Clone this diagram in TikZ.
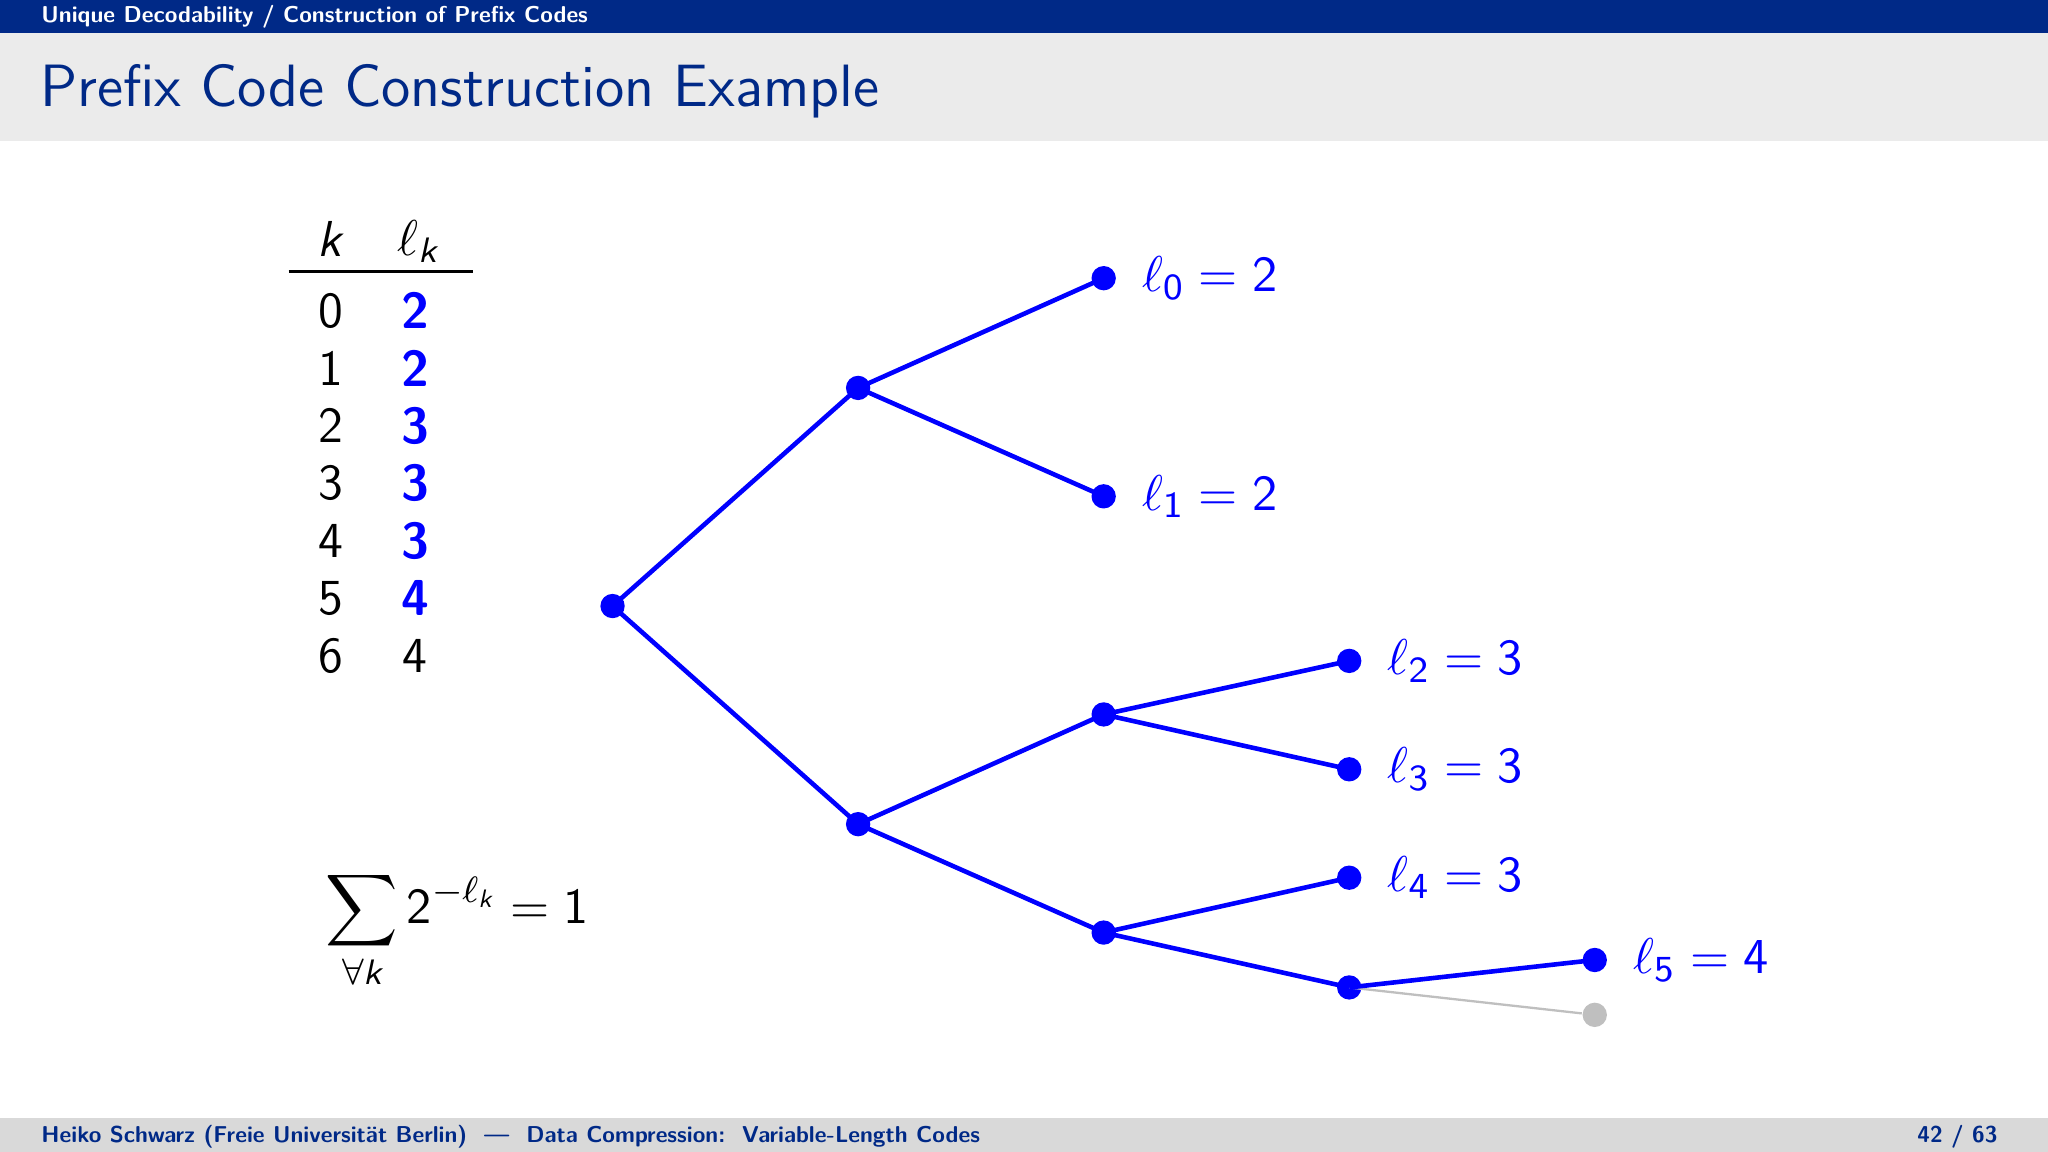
\documentclass[tikz,border=0pt]{standalone}
\renewcommand{\familydefault}{\sfdefault}
\usepackage{amsmath}
\newcommand{\kk}{\textsf{\itshape k}}
\begin{document}
\begin{tikzpicture}[x=0.01cm,y=-0.01cm,
  dot/.style={circle,fill=blue,inner sep=0pt,minimum size=5.3pt},
  gdot/.style={circle,fill=black!25,inner sep=0pt,minimum size=5.3pt},
  edge/.style={blue,line width=1.0pt},
  lab/.style={blue,anchor=west,font=\fontsize{11}{13}\selectfont},
  tab/.style={font=\fontsize{11}{13}\selectfont}]
\definecolor{hdblue}{RGB}{0,41,135}
\useasboundingbox (0,0) rectangle (1568,882);
\fill[hdblue] (0,0) rectangle (1568,25);
\fill[black!8] (0,25) rectangle (1568,108);
\fill[black!15] (0,856) rectangle (1568,882);
\node[anchor=west,white,font=\fontsize{5}{6}\selectfont\bfseries,inner sep=0pt] (hd) at (31,13) {Unique Decodability / Construction of Prefix Codes};
\node[anchor=west,hdblue,font=\fontsize{13}{15}\selectfont,inner sep=0pt] (title) at (30,70) {Prefix Code Construction Example};
\node[anchor=west,hdblue,font=\fontsize{5}{6}\selectfont\bfseries,inner sep=0pt] (ft) at (31,870) {Heiko Schwarz (Freie Universit\"at Berlin) \ --- \ Data Compression:\ \ Variable-Length Codes};
\node[anchor=east,hdblue,font=\fontsize{5}{6}\selectfont\bfseries,inner sep=0pt] (pg) at (1530,870) {42 / 63};
% table
\node[tab] (hk) at (253,183) {\kk};
\node[tab] (hl) at (320,185) {$\ell_{\kk}$};
\draw[line width=0.6pt] (221,208) -- (362,208);
\foreach \k/\l/\c in {0/2/1,1/2/1,2/3/1,3/3/1,4/3/1,5/4/1,6/4/0}{
  \node[tab] (k\k) at (253,238+44*\k) {\k};
  \ifnum\c=1
  \node[tab,blue,font=\fontsize{11}{13}\selectfont\bfseries] (l\k) at (318,238+44*\k) {\l};
  \else
  \node[tab] (l\k) at (318,238+44*\k) {\l};
  \fi
}
\node[tab] (sum) at (350,712) {$\displaystyle\sum_{\forall \kk}\mathsf{2}^{-\ell_{\kk}}=\mathsf{1}$};
% tree
\node[dot] (r) at (469,464) {};
\node[dot] (a) at (657,297) {};
\node[dot] (b) at (657,631) {};
\node[dot] (n0) at (845,213) {};
\node[dot] (n1) at (845,380) {};
\node[dot] (c) at (845,547) {};
\node[dot] (d) at (845,714) {};
\node[dot] (n2) at (1033,506) {};
\node[dot] (n3) at (1033,589) {};
\node[dot] (n4) at (1033,672) {};
\node[dot] (e) at (1033,756) {};
\node[dot] (n5) at (1221,735) {};
\node[gdot] (g) at (1221,777) {};
\draw[black!25,line width=0.5pt] (e.center) -- (g);
\foreach \p/\q in {r/a,r/b,a/n0,a/n1,b/c,b/d,c/n2,c/n3,d/n4,d/e,e/n5}
  \draw[edge] (\p.center) -- (\q.center);
\foreach \n/\v in {0/2,1/2,2/3,3/3,4/3,5/4}
  \node[lab] (t\n) at ([xshift=2pt]n\n.east) {$\ell_{\mathsf{\n}}=\mathsf{\v}$};
\end{tikzpicture}
\end{document}
